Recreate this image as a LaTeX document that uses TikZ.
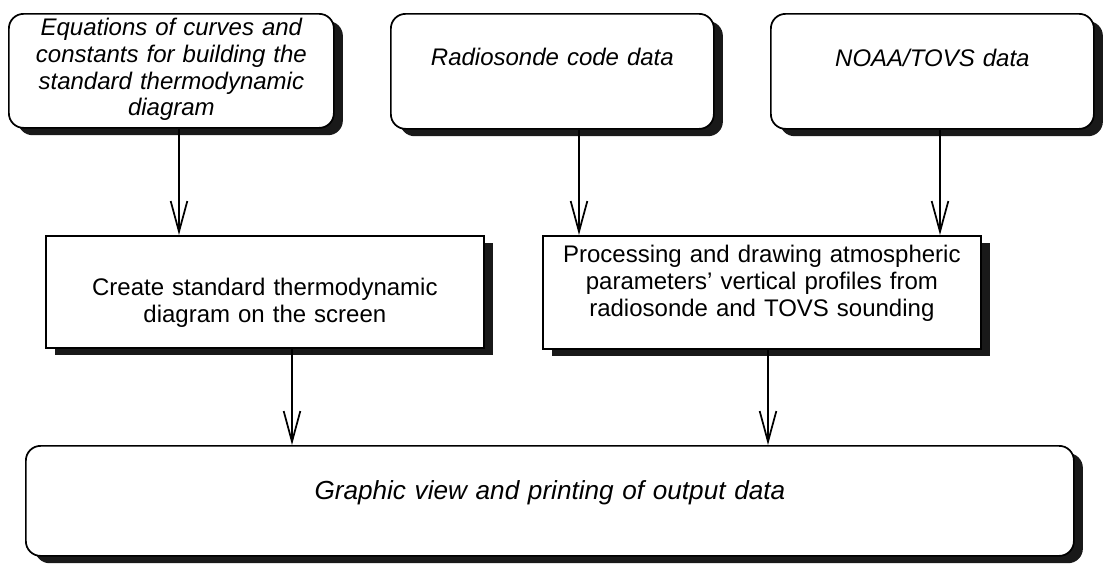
\documentclass[tikz,border=0pt]{standalone}
\usepackage{fontspec}
\setmainfont{Liberation Sans}
\usetikzlibrary{arrows.meta,shadows}
\begin{document}
\begin{tikzpicture}[x=0.75pt,y=-0.75pt,
  boxbase/.style={draw=black, line width=1.3pt, fill=white, inner sep=0pt,
    anchor=north west, align=center,
    font=\fontsize{18pt}{20pt}\selectfont,
    drop shadow={shadow xshift=6.75pt, shadow yshift=-5.5pt, fill=black!90, opacity=1}},
  roundbox/.style={boxbase, rounded corners=11pt, font=\fontsize{18pt}{20pt}\selectfont\itshape},
  rectbox/.style={boxbase},
  arr/.style={line width=1.3pt, -{Straight Barb[length=23pt,width=12.5pt,line width=1.3pt]}}
]
\useasboundingbox (0,0) rectangle (1103,565);

% top row
\node[roundbox, text width=243.75pt, text height=16.5pt, text depth=69pt] (b1) at (8,13)
  {Equations of curves and\\constants for building the\\standard thermodynamic\\diagram};
\node[roundbox, text width=242.25pt, text height=39pt, text depth=47.25pt] (b2) at (390,13)
  {Radiosonde code data};
\node[roundbox, text width=242.25pt, text height=39.75pt, text depth=46.5pt] (b3) at (770,13)
  {NOAA/TOVS data};

% middle row
\node[rectbox, text width=328.5pt, text height=45pt, text depth=39pt] (m1) at (45,235)
  {Create standard thermodynamic\\diagram on the screen};
\node[rectbox, text width=328.5pt, text height=20.25pt, text depth=64.5pt] (m2) at (542,235)
  {Processing and drawing atmospheric\\parameters' vertical profiles from\\radiosonde and TOVS sounding};

% bottom
\node[roundbox, font=\fontsize{19.6pt}{22pt}\selectfont\itshape,
      text width=786pt, text height=40.5pt, text depth=42pt] (out) at (25,445)
  {Graphic view and printing of output data};

% arrow columns
\coordinate (c1) at (179,0);
\coordinate (c2) at (579,0);
\coordinate (c3) at (940,0);
\coordinate (c4) at (292,0);
\coordinate (c5) at (768,0);

\draw[arr] (b1.south -| c1) -- (m1.north -| c1);
\draw[arr] (b2.south -| c2) -- (m2.north -| c2);
\draw[arr] (b3.south -| c3) -- (m2.north -| c3);
\draw[arr] (m1.south -| c4) -- (out.north -| c4);
\draw[arr] (m2.south -| c5) -- (out.north -| c5);
\end{tikzpicture}
\end{document}
